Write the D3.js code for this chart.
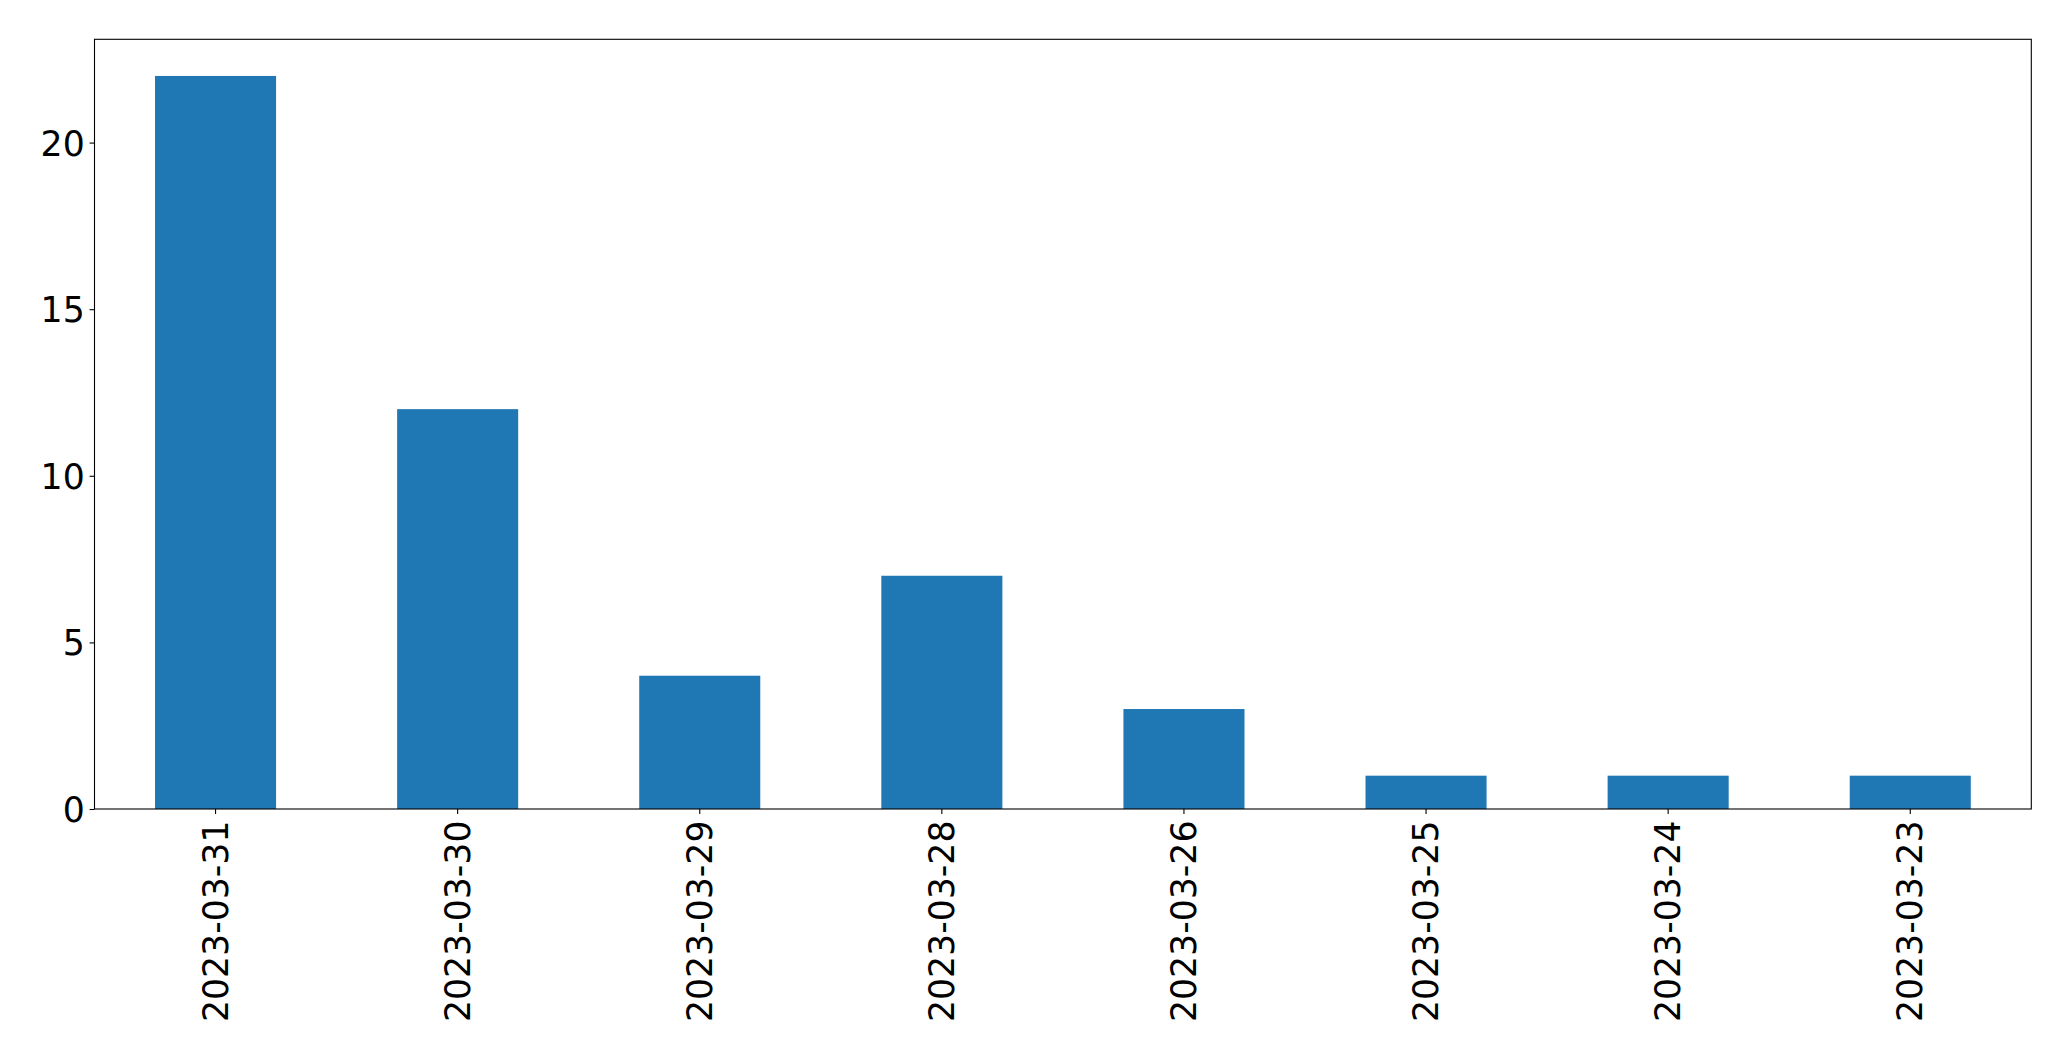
<!DOCTYPE html>
<html><head><meta charset="utf-8">
<script src="https://cdn.jsdelivr.net/npm/d3@7"></script>
<style>body{margin:0;background:#fff}svg{display:block}</style>
</head><body>
<script>
const categories = ["2023-03-31","2023-03-30","2023-03-29","2023-03-28","2023-03-26","2023-03-25","2023-03-24","2023-03-23"];
const values = [22, 12, 4, 7, 3, 1, 1, 1];
const yTicks = [0, 5, 10, 15, 20];

const W = 2071, H = 1061;
const m = {left: 94.5, right: 2031.3, top: 39.3, bottom: 809};
const fontSize = 34.7;
const svg = d3.select("body").append("svg").attr("width", W).attr("height", H);

const x = d3.scaleBand().domain(categories).range([m.left, m.right]).paddingInner(0.5).paddingOuter(0.25);
const y = d3.scaleLinear().domain([0, d3.max(values) * 1.05]).range([m.bottom, m.top]);

svg.append("g").selectAll("rect").data(values).join("rect")
  .attr("x", (d, i) => x(categories[i]))
  .attr("width", x.bandwidth())
  .attr("y", d => y(d))
  .attr("height", d => y(0) - y(d))
  .attr("fill", "#1f77b4");

const yAxis = svg.append("g").attr("transform", `translate(${m.left},0)`)
  .call(d3.axisLeft(y).tickValues(yTicks).tickSize(4.9).tickPadding(4.9));
const xAxis = svg.append("g").attr("transform", `translate(0,${m.bottom})`)
  .call(d3.axisBottom(x).tickSize(4.9).tickPadding(4.9));

[yAxis, xAxis].forEach(a => {
  a.select(".domain").remove();
  a.selectAll("line").attr("stroke", "#000").attr("stroke-width", 1.1);
  a.selectAll("text").attr("fill", "#000").style("font-family", "DejaVu Sans").style("font-size", fontSize + "px");
});
yAxis.selectAll("text").attr("dy", "0.36em");
xAxis.selectAll("text")
  .attr("text-anchor", "end")
  .attr("dy", null)
  .attr("dominant-baseline", "central")
  .attr("transform", "rotate(-90)")
  .attr("x", -11.5)
  .attr("y", 0);

svg.append("rect").attr("x", m.left).attr("y", m.top)
  .attr("width", m.right - m.left).attr("height", m.bottom - m.top)
  .attr("fill", "none").attr("stroke", "#000").attr("stroke-width", 1.1);
</script>
</body></html>
